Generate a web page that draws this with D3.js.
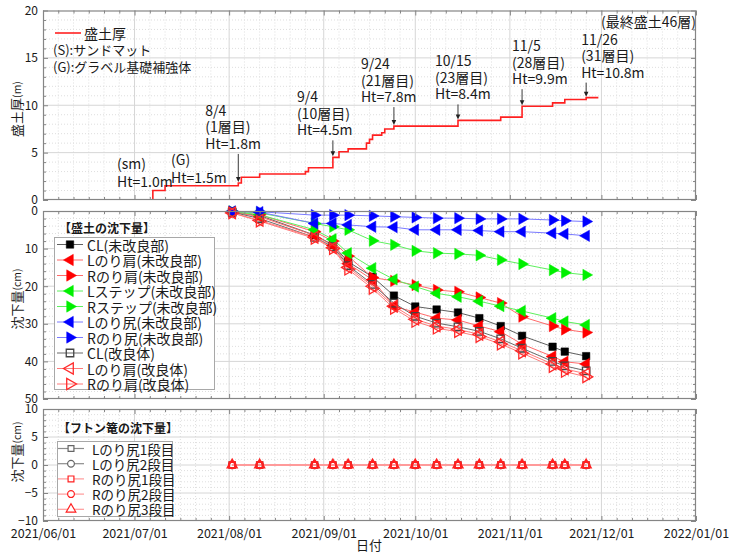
<!DOCTYPE html>
<html>
<head>
<meta charset="utf-8">
<script src="https://cdn.jsdelivr.net/npm/d3@7"></script>
<style>
  body { margin: 0; background: #fff; }
  svg text { font-family: "Noto Sans CJK JP", "Noto Sans", sans-serif; fill: #1a1a1a; }
</style>
</head>
<body>
<svg id="chart" width="739" height="553"></svg>
<script>
// ---------------- data ----------------
// embankment thickness (step history)
const fillDates = ["2021-07-07","2021-07-07","2021-07-11","2021-08-04","2021-08-05","2021-08-11","2021-08-26","2021-08-27",
  "2021-09-04","2021-09-06","2021-09-09","2021-09-15","2021-09-16","2021-09-17","2021-09-20","2021-09-21","2021-09-24",
  "2021-10-15","2021-10-29","2021-11-05","2021-11-15","2021-11-19","2021-11-26","2021-11-30"];
const fillHeights = [0, 1.0, 1.5, 1.8, 2.4, 2.75, 3.0, 3.4,
  4.5, 5.1, 5.4, 6.0, 6.4, 6.85, 7.1, 7.5, 7.8,
  8.4, 8.75, 9.9, 10.25, 10.6, 10.8, 10.8];

// stage notes on the thickness chart
const noteDates   = ["2021-08-04","2021-09-04","2021-09-24","2021-10-15","2021-11-05","2021-11-26"];
const noteDays    = ["8/4","9/4","9/24","10/15","11/5","11/26"];
const noteLayers  = ["(1層目)","(10層目)","(21層目)","(23層目)","(28層目)","(31層目)"];
const noteHeights = [1.8, 4.5, 7.8, 8.4, 9.9, 10.8];
const baseNoteDates   = ["2021-07-07","2021-07-11"];
const baseNoteTags    = ["(sm)","(G)"];
const baseNoteHeights = [1.0, 1.5];

// settlement survey dates
const surveyDates = ["2021-08-02","2021-08-11","2021-08-29","2021-09-04","2021-09-09","2021-09-17","2021-09-24","2021-10-01",
  "2021-10-08","2021-10-15","2021-10-22","2021-10-29","2021-11-05","2021-11-15","2021-11-19","2021-11-26"];

// embankment settlement (cm)
const settleNames = ["CL(未改良部)","Lのり肩(未改良部)","Rのり肩(未改良部)","Lステップ(未改良部)","Rステップ(未改良部)",
  "Lのり尻(未改良部)","Rのり尻(未改良部)","CL(改良体)","Lのり肩(改良体)","Rのり肩(改良体)"];
const clPlain      = [0.3, 1.2, 6.4, 9.0, 13.5, 17.5, 22.5, 25.4, 26.2, 27.0, 28.5, 30.6, 33.2, 36.1, 37.4, 38.6];
const lShoulder    = [0.3, 1.5, 6.5, 9.2, 14.0, 18.3, 25.4, 26.9, 28.5, 29.0, 30.6, 32.1, 35.4, 38.7, 40.1, 40.7];
const rShoulder    = [0.2, 1.0, 5.5, 8.0, 12.0, 17.7, 18.6, 19.7, 21.0, 21.5, 23.0, 24.5, 28.1, 30.6, 31.5, 32.3];
const lStep        = [0.2, 1.0, 5.0, 7.5, 11.2, 15.2, 18.2, 20.1, 21.9, 22.8, 24.0, 25.3, 26.6, 28.5, 29.4, 30.3];
const rStep        = [0.1, 0.5, 3.3, 4.2, 5.0, 7.9, 9.0, 10.6, 11.2, 11.4, 11.8, 13.0, 14.1, 15.7, 16.4, 17.0];
const lToe         = [0.1, 0.3, 3.3, 3.3, 3.7, 4.2, 4.3, 5.0, 5.0, 5.0, 5.2, 5.5, 5.5, 5.9, 6.1, 6.6];
const rToe         = [0.1, 0.2, 1.1, 1.1, 1.1, 1.3, 1.5, 1.7, 1.9, 1.9, 2.1, 2.1, 2.1, 2.4, 2.6, 2.8];
const clImproved   = [0.3, 2.0, 7.0, 9.5, 14.5, 19.5, 24.5, 28.0, 29.8, 30.8, 32.0, 34.0, 36.5, 40.0, 41.2, 42.5];
const lShoulderImp = [0.5, 2.5, 7.0, 9.8, 15.0, 20.0, 25.3, 28.8, 30.6, 31.5, 32.8, 34.8, 37.2, 40.7, 42.0, 43.3];
const rShoulderImp = [0.5, 2.7, 7.3, 10.0, 15.5, 20.6, 25.9, 29.4, 31.2, 32.1, 33.4, 35.4, 37.8, 41.4, 42.7, 44.1];

// gabion settlement (cm)
const gabionNames = ["Lのり尻1段目","Lのり尻2段目","Rのり尻1段目","Rのり尻2段目","Rのり尻3段目"];
const gabionL1 = [0,0,0,0,0,0,0,0,0,0,0,0,0,0,0,0];
const gabionL2 = [0,0,0,0,0,0,0,0,0,0,0,0,0,0,0,0];
const gabionR1 = [0,0,0,0,0,0,0,0,0,0,0,0,0,0,0,0];
const gabionR2 = [0,0,0,0,0,0,0,0,0,0,0,0,0,0,0,0];
const gabionR3 = [0,0,0,0,0,0,0,0,0,0,0,0,0,0,0,0];

// axis ticks
const yTicksFill   = [0, 5, 10, 15, 20];
const yTicksSettle = [0, 10, 20, 30, 40, 50];
const yTicksGabion = [-10, -5, 0, 5, 10];
const xTickDates   = ["2021-06-01","2021-07-01","2021-08-01","2021-09-01","2021-10-01","2021-11-01","2021-12-01","2022-01-01"];

// ---------------- drawing ----------------
const parse = d3.timeParse("%Y-%m-%d");
const svg = d3.select("#chart");
const L = 43, R = 696;
const x = d3.scaleTime().domain([parse("2021-06-01"), parse("2022-01-01")]).range([L, R]);
const xMajor = xTickDates.map(parse);
const xMinor = [];
xMajor.slice(0, -1).forEach(m => [6, 11, 16, 21, 26].forEach(day =>
  xMinor.push(new Date(m.getFullYear(), m.getMonth(), day))));

const frameColor = "#858585";

function panel(y, top, bottom, majors, minorStep, showDates) {
  const g = svg.append("g");
  const yMinor = d3.range(y.domain()[0], y.domain()[1] + 1e-9, minorStep).filter(v => !majors.includes(v));
  g.append("rect").attr("x", L).attr("y", top).attr("width", R - L).attr("height", bottom - top).attr("fill", "#fff");
  // minor grid
  g.append("g").selectAll("line").data(xMinor).join("line")
    .attr("x1", d => x(d)).attr("x2", d => x(d)).attr("y1", top).attr("y2", bottom)
    .attr("stroke", "#dedede").attr("stroke-dasharray", "1,2");
  g.append("g").selectAll("line").data(yMinor).join("line")
    .attr("x1", L).attr("x2", R).attr("y1", d => y(d)).attr("y2", d => y(d))
    .attr("stroke", "#dedede").attr("stroke-dasharray", "1,2");
  // major grid
  g.append("g").selectAll("line").data(xMajor.slice(1, -1)).join("line")
    .attr("x1", d => x(d)).attr("x2", d => x(d)).attr("y1", top).attr("y2", bottom)
    .attr("stroke", "#d6d6d6");
  g.append("g").selectAll("line").data(majors.filter(v => y(v) > top + 1 && y(v) < bottom - 1)).join("line")
    .attr("x1", L).attr("x2", R).attr("y1", d => y(d)).attr("y2", d => y(d))
    .attr("stroke", "#d6d6d6");
  const axes = svg.append("g").attr("class", "axes");
  const style = sel => {
    sel.select(".domain").remove();
    sel.selectAll("line").attr("stroke", frameColor);
    sel.selectAll("text").attr("font-size", 12).attr("fill", "#1a1a1a");
  };
  axes.append("g").attr("transform", `translate(${L},0)`)
    .call(d3.axisLeft(y).tickValues(majors).tickSizeInner(-5).tickSizeOuter(0).tickPadding(5)).call(style);
  axes.append("g").attr("transform", `translate(${L},0)`)
    .call(d3.axisLeft(y).tickValues(yMinor).tickSizeInner(-3).tickSizeOuter(0).tickFormat("")).call(style);
  axes.append("g").attr("transform", `translate(${R},0)`)
    .call(d3.axisRight(y).tickValues(majors).tickSizeInner(-5).tickSizeOuter(0).tickFormat("")).call(style);
  axes.append("g").attr("transform", `translate(${R},0)`)
    .call(d3.axisRight(y).tickValues(yMinor).tickSizeInner(-3).tickSizeOuter(0).tickFormat("")).call(style);
  axes.append("g").attr("transform", `translate(0,${top})`)
    .call(d3.axisTop(x).tickValues(xMajor).tickSizeInner(-5).tickSizeOuter(0).tickFormat("")).call(style);
  axes.append("g").attr("transform", `translate(0,${top})`)
    .call(d3.axisTop(x).tickValues(xMinor).tickSizeInner(-3).tickSizeOuter(0).tickFormat("")).call(style);
  const bx = axes.append("g").attr("transform", `translate(0,${bottom})`)
    .call(d3.axisBottom(x).tickValues(xMajor).tickSizeInner(-5).tickSizeOuter(0).tickPadding(8)
      .tickFormat(showDates ? d3.timeFormat("%Y/%m/%d") : "")).call(style);
  bx.selectAll("text").attr("font-size", 12.5);
  axes.append("g").attr("transform", `translate(0,${bottom})`)
    .call(d3.axisBottom(x).tickValues(xMinor).tickSizeInner(-3).tickSizeOuter(0).tickFormat("")).call(style);
  return { g, axes };
}

function frame(top, bottom) {
  svg.append("rect").attr("x", L + 0.5).attr("y", top + 0.5).attr("width", R - L - 1).attr("height", bottom - top - 1)
    .attr("fill", "none").attr("stroke", frameColor).attr("stroke-width", 1.2);
}

function yLabel(cx, cy, main, unit) {
  const t = svg.append("text").attr("transform", `translate(${cx},${cy}) rotate(-90)`)
    .attr("text-anchor", "middle").attr("dominant-baseline", "middle").attr("font-size", 13);
  t.append("tspan").text(main);
  t.append("tspan").attr("font-size", 10.5).text(unit);
}

// ================= panel 1: embankment thickness =================
const yFill = d3.scaleLinear().domain([0, 20]).range([200, 10.5]);
const p1 = panel(yFill, 10.5, 200, yTicksFill, 1, false);
const fillPts = fillDates.map((d, i) => [parse(d), fillHeights[i]]);
p1.g.append("path").datum(fillPts)
  .attr("d", d3.line().x(d => x(d[0])).y(d => yFill(d[1])).curve(d3.curveStepAfter))
  .attr("fill", "none").attr("stroke", "#ff2020").attr("stroke-width", 1.6);
frame(10.5, 200);

// legend
p1.g.append("line").attr("x1", 55).attr("x2", 81).attr("y1", 33).attr("y2", 33).attr("stroke", "#ff2020").attr("stroke-width", 1.6);
p1.g.append("text").attr("x", 84).attr("y", 38.5).attr("font-size", 14).text("盛土厚");
p1.g.append("text").attr("x", 53).attr("y", 55).attr("font-size", 13).text("(S):サンドマット");
p1.g.append("text").attr("x", 53).attr("y", 72).attr("font-size", 13).text("(G):グラベル基礎補強体");

// stage notes with arrows
const noteLayout = [
  { dx: -33, dy: -67 }, { dx: -36, dy: -55 }, { dx: -33, dy: -57 },
  { dx: -23, dy: -54 }, { dx: -10, dy: -55 }, { dx: -5, dy: -53 }
];
const lineGap = 16.5;
noteDates.forEach((d, i) => {
  const ax = x(parse(d)), ay = yFill(noteHeights[i]);
  const tx = ax + noteLayout[i].dx, ty = ay + noteLayout[i].dy;
  const t = p1.g.append("text").attr("font-size", 14);
  [noteDays[i], noteLayers[i], `Ht=${noteHeights[i]}m`].forEach((s, k) =>
    t.append("tspan").attr("x", tx).attr("y", ty + k * lineGap).text(s));
  const y0 = ty + 2 * lineGap + 5;
  p1.g.append("line").attr("x1", ax).attr("x2", ax).attr("y1", y0).attr("y2", ay - 5)
    .attr("stroke", "#222").attr("stroke-width", 0.9);
  p1.g.append("path").attr("d", `M${ax - 2.3},${ay - 6} L${ax + 2.3},${ay - 6} L${ax},${ay - 1} Z`).attr("fill", "#222");
});
const baseLayout = [{ x: 117, y: 169 }, { x: 171, y: 165 }];
baseNoteDates.forEach((d, i) => {
  const t = p1.g.append("text").attr("font-size", 14);
  t.append("tspan").attr("x", baseLayout[i].x).attr("y", baseLayout[i].y).text(baseNoteTags[i]);
  t.append("tspan").attr("x", baseLayout[i].x).attr("y", baseLayout[i].y + 17.5).text(`Ht=${baseNoteHeights[i].toFixed(1)}m`);
});
p1.g.append("text").attr("x", 601).attr("y", 27).attr("font-size", 14).text("(最終盛土46層)");
yLabel(18, 109, "盛土厚", "(m)");

// ================= panel 2: embankment settlement =================
const ySet = d3.scaleLinear().domain([0, 50]).range([211, 399]);
const p2 = panel(ySet, 211, 399, yTicksSettle, 2, false);
frame(211, 399);

const sym = {
  square: d3.symbol().type(d3.symbolSquare).size(56),
  tri: d3.symbol().type(d3.symbolTriangle).size(56),
  smallTri: d3.symbol().type(d3.symbolTriangle).size(40),
  circle: d3.symbol().type(d3.symbolCircle).size(36),
  smallSquare: d3.symbol().type(d3.symbolSquare).size(34)
};
const settleSeries = [
  { values: clPlain,      line: "#606060", mark: "square", rot: 0,   fill: "#000",    stroke: "#000" },
  { values: lShoulder,    line: "#ff6a6a", mark: "tri",    rot: -90, fill: "#ff0000", stroke: "#ff0000" },
  { values: rShoulder,    line: "#ff6a6a", mark: "tri",    rot: 90,  fill: "#ff0000", stroke: "#ff0000" },
  { values: lStep,        line: "#5ef05e", mark: "tri",    rot: -90, fill: "#00f000", stroke: "#00f000" },
  { values: rStep,        line: "#5ef05e", mark: "tri",    rot: 90,  fill: "#00f000", stroke: "#00f000" },
  { values: lToe,         line: "#7a7aff", mark: "tri",    rot: -90, fill: "#0000ff", stroke: "#0000ff" },
  { values: rToe,         line: "#7a7aff", mark: "tri",    rot: 90,  fill: "#0000ff", stroke: "#0000ff" },
  { values: clImproved,   line: "#6a6a6a", mark: "square", rot: 0,   fill: "none",    stroke: "#444" },
  { values: lShoulderImp, line: "#ff7a7a", mark: "tri",    rot: -90, fill: "none",    stroke: "#ff2a2a" },
  { values: rShoulderImp, line: "#ff7a7a", mark: "tri",    rot: 90,  fill: "none",    stroke: "#ff2a2a" }
];
const surveyX = surveyDates.map(parse);
settleSeries.forEach(s => {
  const pts = s.values.map((v, i) => [surveyX[i], v]);
  p2.g.append("path").datum(pts).attr("d", d3.line().x(d => x(d[0])).y(d => ySet(d[1])))
    .attr("fill", "none").attr("stroke", s.line).attr("stroke-width", 1);
});
settleSeries.forEach(s => {
  const pts = s.values.map((v, i) => [surveyX[i], v]);
  p2.g.append("g").selectAll("path").data(pts).join("path")
    .attr("d", sym[s.mark]())
    .attr("transform", d => `translate(${x(d[0])},${ySet(d[1])}) rotate(${s.rot})`)
    .attr("fill", s.fill).attr("stroke", s.stroke).attr("stroke-width", s.fill === "none" ? 1.3 : 0.5);
});

// legend
p2.g.append("text").attr("x", 59).attr("y", 233).attr("font-size", 12).attr("font-weight", 700).text("【盛土の沈下量】");
p2.g.append("rect").attr("x", 54.5).attr("y", 237.5).attr("width", 160).attr("height", 152)
  .attr("fill", "#fff").attr("stroke", "#a8a8a8");
settleSeries.forEach((s, i) => {
  const cy = 244.5 + i * 15.5;
  p2.g.append("line").attr("x1", 57).attr("x2", 83).attr("y1", cy).attr("y2", cy).attr("stroke", s.line);
  p2.g.append("path").attr("d", sym[s.mark]()).attr("transform", `translate(70,${cy}) rotate(${s.rot})`)
    .attr("fill", s.fill).attr("stroke", s.stroke).attr("stroke-width", s.fill === "none" ? 1.3 : 0.5);
  p2.g.append("text").attr("x", 87).attr("y", cy).attr("dominant-baseline", "central").attr("font-size", 14).text(settleNames[i]);
});
yLabel(18, 299, "沈下量", "(cm)");

// ================= panel 3: gabion settlement =================
const yGab = d3.scaleLinear().domain([-10, 10]).range([521, 409]);
const p3 = panel(yGab, 409, 521, yTicksGabion, 1, true);
frame(409, 521);
const gabionSeries = [
  { values: gabionL1, line: "#8c8c8c", mark: "smallSquare", stroke: "#666" },
  { values: gabionL2, line: "#8c8c8c", mark: "circle",      stroke: "#666" },
  { values: gabionR1, line: "#ff9a9a", mark: "smallSquare", stroke: "#ff2020" },
  { values: gabionR2, line: "#ff9a9a", mark: "circle",      stroke: "#ff2020" },
  { values: gabionR3, line: "#ff9a9a", mark: "smallTri",    stroke: "#ff2020" }
];
gabionSeries.forEach(s => {
  const pts = s.values.map((v, i) => [surveyX[i], v]);
  p3.g.append("path").datum(pts).attr("d", d3.line().x(d => x(d[0])).y(d => yGab(d[1])))
    .attr("fill", "none").attr("stroke", s.line).attr("stroke-width", 1.8);
});
gabionSeries.forEach(s => {
  const pts = s.values.map((v, i) => [surveyX[i], v]);
  p3.g.append("g").selectAll("path").data(pts).join("path")
    .attr("d", sym[s.mark]())
    .attr("transform", d => `translate(${x(d[0])},${yGab(d[1])})`)
    .attr("fill", "none").attr("stroke", s.stroke).attr("stroke-width", 1.6);
});
p3.g.append("text").attr("x", 58).attr("y", 433).attr("font-size", 12).attr("font-weight", 700).text("【フトン篭の沈下量】");
p3.g.append("rect").attr("x", 57.5).attr("y", 441.5).attr("width", 115).attr("height", 75)
  .attr("fill", "#fff").attr("stroke", "#a8a8a8");
gabionSeries.forEach((s, i) => {
  const cy = 448.5 + i * 15.2;
  p3.g.append("line").attr("x1", 58).attr("x2", 84).attr("y1", cy).attr("y2", cy).attr("stroke", s.line).attr("stroke-width", 1.2);
  p3.g.append("path").attr("d", sym[s.mark]()).attr("transform", `translate(71,${cy})`)
    .attr("fill", "#fff").attr("stroke", s.stroke).attr("stroke-width", 1.2);
  p3.g.append("text").attr("x", 92).attr("y", cy).attr("dominant-baseline", "central").attr("font-size", 13.5).text(gabionNames[i]);
});
yLabel(18, 452, "沈下量", "(cm)");
svg.append("text").attr("x", 369).attr("y", 550).attr("text-anchor", "middle").attr("font-size", 13).text("日付");

// axes on top of panel contents
svg.selectAll("g.axes").raise();
</script>
</body>
</html>
